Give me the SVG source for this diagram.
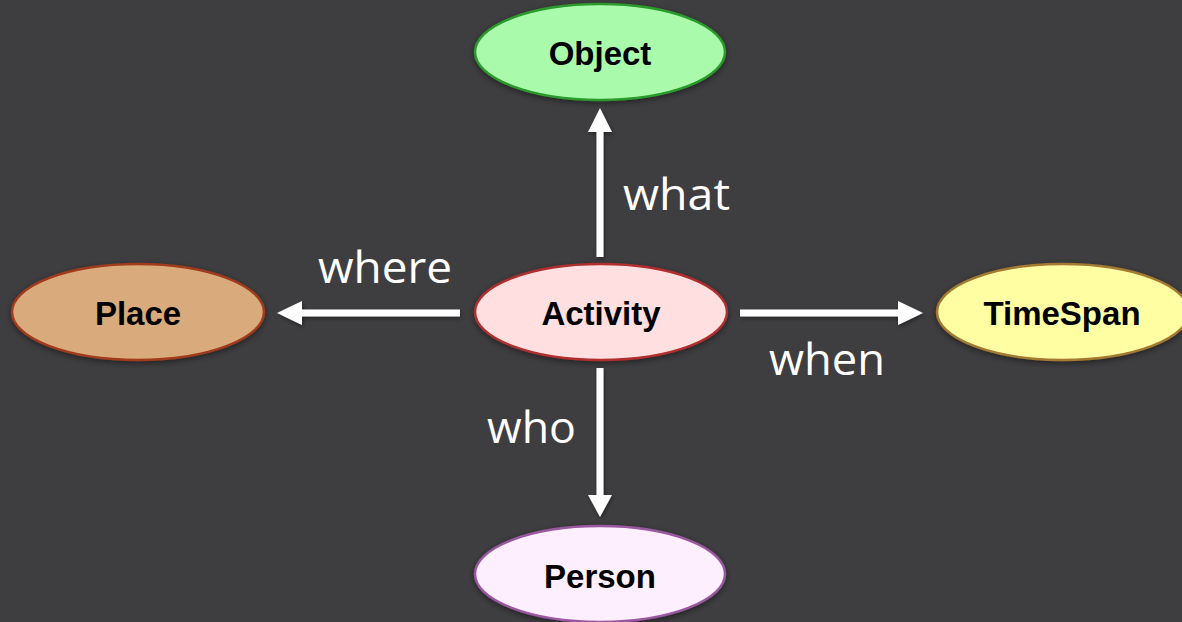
<svg xmlns="http://www.w3.org/2000/svg" width="1182" height="622" viewBox="0 0 1182 622">
<defs>
<filter id="sh" x="-20%" y="-30%" width="140%" height="160%">
<feDropShadow dx="0" dy="2" stdDeviation="3" flood-color="#000" flood-opacity="0.45"/>
</filter>
<filter id="ash" x="-20%" y="-50%" width="140%" height="200%">
<feDropShadow dx="1" dy="2" stdDeviation="2" flood-color="#000" flood-opacity="0.4"/>
</filter>
</defs>
<style>
.node ellipse{stroke-width:2.5;filter:url(#sh)}
.nt{font-family:"Liberation Sans",Arial,sans-serif;font-weight:bold;font-size:33px;fill:#000;text-anchor:middle}
.lbl{font-family:"Open Sans","Noto Sans",sans-serif;font-size:43px;fill:#fff}
.arr{fill:#fff;filter:url(#ash)}
</style>
<rect width="1182" height="622" fill="#3e3d40"/>
<g id="connectors">
<g id="e-what"><polygon class="arr" points="596.5,257 603.5,257 603.5,132 612,132 600,108 588,132 596.5,132"/><text class="lbl" x="623" y="210" textLength="107" lengthAdjust="spacingAndGlyphs">what</text></g>
<g id="e-where"><polygon class="arr" points="460,309.5 460,316.5 302,316.5 302,325 277,313 302,301 302,309.5"/><text class="lbl" x="318" y="283" textLength="134" lengthAdjust="spacingAndGlyphs">where</text></g>
<g id="e-when"><polygon class="arr" points="740,309.5 740,316.5 898,316.5 898,325 923,313 898,301 898,309.5"/><text class="lbl" x="769" y="375" textLength="116" lengthAdjust="spacingAndGlyphs">when</text></g>
<g id="e-who"><polygon class="arr" points="596.5,368 603.5,368 603.5,495 612,495 600,517 588,495 596.5,495"/><text class="lbl" x="487" y="443" textLength="89" lengthAdjust="spacingAndGlyphs">who</text></g>
</g>
<g id="object" class="node"><ellipse cx="600" cy="52" rx="125" ry="48" fill="#a9fbab" stroke="#2c9a2c"/><text class="nt" x="600" y="65">Object</text></g>
<g id="activity" class="node"><ellipse cx="601" cy="312" rx="126" ry="48" fill="#ffdfdf" stroke="#b02e2e"/><text class="nt" x="601" y="325">Activity</text></g>
<g id="place" class="node"><ellipse cx="138" cy="312" rx="126" ry="48" fill="#d9ab7b" stroke="#a03a1c"/><text class="nt" x="138" y="325">Place</text></g>
<g id="timespan" class="node"><ellipse cx="1063" cy="312" rx="126" ry="48" fill="#fffea2" stroke="#a37a30"/><text class="nt" x="1062" y="325">TimeSpan</text></g>
<g id="person" class="node"><ellipse cx="600" cy="574" rx="125" ry="48" fill="#fdeffe" stroke="#9a58a0"/><text class="nt" x="600" y="588">Person</text></g>
</svg>
